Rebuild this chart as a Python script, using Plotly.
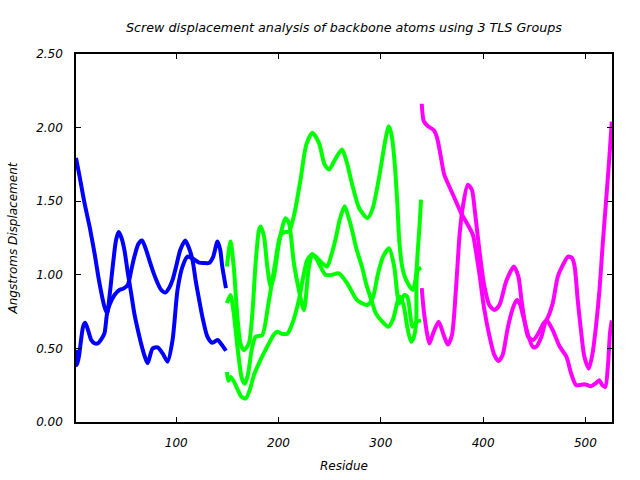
import plotly.graph_objects as go

TITLE = "Screw displacement analysis of backbone atoms using 3 TLS Groups"
X_TITLE = "Residue"
Y_TITLE = "Angstroms Displacement"
X_TICKS = [100, 200, 300, 400, 500]
Y_TICKS = [0.0, 0.5, 1.0, 1.5, 2.0, 2.5]

# Group 1 (blue)
b1_x = [2, 5.5, 10.3, 15.2, 20.1, 24.9, 29.8, 32.4, 34.7, 37.9, 41.2, 43.8, 46.5, 49.3, 52.5, 55.8, 59.0, 62.3, 65.6, 69, 72, 76.9, 81.8, 86.7, 91.5, 96.4, 101.3, 106.1, 111, 116, 122.4, 127, 132, 136, 140.3, 143, 145, 148.6]
b1_y = [1.794, 1.669, 1.488, 1.33, 1.147, 0.945, 0.783, 0.738, 0.85, 1.056, 1.238, 1.29, 1.25, 1.17, 1.02, 0.88, 0.738, 0.63, 0.534, 0.45, 0.40, 0.50, 0.507, 0.466, 0.41, 0.557, 0.90, 1.056, 1.124, 1.11, 1.083, 1.08, 1.08, 1.12, 1.226, 1.17, 1.056, 0.91]
b2_x = [2, 3, 5, 7, 9, 11, 14, 16.9, 20, 23.3, 26.5, 29.8, 32.4, 35, 39.6, 44.4, 48, 52.5, 56, 59.1, 63, 66.5, 70, 73.7, 78, 81.8, 85, 89.3, 93, 96.4, 100, 104, 108.8, 112, 115.9, 119, 122.4, 126, 130.5, 135.4, 140.3, 144, 148.6]
b2_y = [0.49, 0.386, 0.45, 0.56, 0.65, 0.674, 0.62, 0.557, 0.535, 0.534, 0.56, 0.602, 0.74, 0.80, 0.863, 0.897, 0.905, 0.93, 1.03, 1.124, 1.21, 1.233, 1.18, 1.10, 1.01, 0.943, 0.90, 0.879, 0.91, 0.965, 1.06, 1.17, 1.233, 1.19, 1.10, 0.96, 0.829, 0.70, 0.579, 0.538, 0.557, 0.53, 0.484]

# Group 2 (green)
g1_x = [149.5, 153, 156.2, 159.5, 162.8, 166.3, 171, 174.4, 177.6, 180.9, 182.5, 185.8, 189, 192.3, 195.5, 200.4, 205.3, 206.9, 210.2, 215, 219.9, 224.8, 229.6, 233, 236, 240, 246, 252, 259, 267, 276.7, 286.4, 292, 297, 302, 308, 313, 318, 323, 326, 331, 335, 339.3]
g1_y = [1.056, 1.226, 1.056, 0.738, 0.534, 0.488, 0.534, 0.738, 1.079, 1.306, 1.328, 1.26, 1.056, 0.92, 0.988, 1.215, 1.362, 1.385, 1.351, 1.079, 0.897, 0.76, 1.05, 1.14, 1.12, 1.07, 1.0, 1.0, 1.01, 0.943, 0.829, 0.795, 0.84, 1.0, 1.12, 1.18, 1.06, 0.806, 0.863, 0.85, 0.647, 0.68, 0.69]
g2_x = [149.5, 153, 156, 160, 164, 167, 170, 174, 177.6, 184, 190, 196, 202, 206, 210.2, 215, 221.5, 227, 233, 239.5, 245, 249.5, 255, 262, 266.5, 272.5, 279, 287, 292, 298.5, 304, 307.8, 310.5, 313.3, 316, 318.2, 321, 324.7, 331.2, 334, 336.2, 338, 339.3]
g2_y = [0.807, 0.863, 0.75, 0.50, 0.30, 0.26, 0.32, 0.50, 0.579, 0.59, 0.80, 1.05, 1.27, 1.29, 1.294, 1.40, 1.646, 1.88, 1.965, 1.896, 1.75, 1.715, 1.78, 1.851, 1.77, 1.60, 1.45, 1.385, 1.45, 1.669, 1.90, 2.01, 1.95, 1.78, 1.50, 1.215, 1.05, 0.965, 0.897, 0.97, 1.17, 1.35, 1.51]
g3_x = [149.5, 151, 153, 156, 160, 164, 168, 172, 176, 180.9, 185, 190.6, 195, 198.7, 203, 208.5, 213, 219.9, 224, 228, 233, 237, 241, 247.5, 251, 255.6, 260, 264.7, 268, 271.8, 276, 281.5, 286, 291.3, 295, 300, 307.5, 312, 318.2, 322, 326, 329.6, 332, 334.5, 336, 339.3]
g3_y = [0.34, 0.28, 0.306, 0.28, 0.22, 0.17, 0.16, 0.22, 0.32, 0.40, 0.46, 0.534, 0.59, 0.613, 0.60, 0.60, 0.66, 0.829, 0.98, 1.10, 1.14, 1.12, 1.09, 1.056, 1.12, 1.238, 1.38, 1.465, 1.40, 1.306, 1.18, 1.056, 0.93, 0.817, 0.74, 0.693, 0.647, 0.70, 0.852, 0.80, 0.64, 0.545, 0.57, 0.67, 1.03, 1.05]

# Group 3 (magenta)
m1_x = [340, 342, 346, 352, 355, 358.3, 362, 365.4, 372, 378.5, 385, 390, 393, 396.5, 401, 406, 411, 415, 419, 424, 429, 433, 436, 438.5, 443.5, 448.5, 452, 457, 462, 468, 475, 481.5, 486, 491, 499, 505.5, 510, 513.5, 516.5, 519.4, 522, 524, 525.8]
m1_y = [2.162, 2.044, 2.01, 1.98, 1.93, 1.817, 1.68, 1.624, 1.522, 1.42, 1.34, 1.272, 1.158, 1.0, 0.772, 0.59, 0.454, 0.415, 0.454, 0.636, 0.772, 0.829, 0.80, 0.738, 0.602, 0.511, 0.511, 0.579, 0.693, 0.625, 0.511, 0.443, 0.33, 0.25, 0.257, 0.243, 0.262, 0.284, 0.25, 0.238, 0.38, 0.60, 0.69]
m2_x = [340, 342.5, 347.5, 351, 356.5, 361.5, 365.5, 369.5, 373.5, 377, 380, 385, 389, 392, 396.5, 401, 406, 411, 416, 422.5, 430, 434.5, 437.5, 441, 444, 449, 454, 459, 462, 468, 473, 478, 483, 487, 489.5, 492.5, 496, 499, 503.3, 507, 510.5, 513.8, 517, 520.3, 523.5, 525.8]
m2_y = [0.909, 0.727, 0.534, 0.60, 0.681, 0.59, 0.527, 0.59, 0.909, 1.272, 1.454, 1.612, 1.578, 1.43, 1.158, 0.931, 0.795, 0.761, 0.795, 0.954, 1.056, 0.988, 0.829, 0.67, 0.579, 0.557, 0.602, 0.67, 0.693, 0.806, 0.988, 1.067, 1.124, 1.113, 1.056, 0.829, 0.602, 0.443, 0.364, 0.466, 0.66, 0.90, 1.215, 1.51, 1.805, 2.04]

BLUE = "#0000ff"
GREEN = "#00ff00"
MAGENTA = "#ff00ff"

series = [
    (b1_x, b1_y, BLUE), (b2_x, b2_y, BLUE),
    (g1_x, g1_y, GREEN), (g2_x, g2_y, GREEN), (g3_x, g3_y, GREEN),
    (m1_x, m1_y, MAGENTA), (m2_x, m2_y, MAGENTA),
]

fig = go.Figure()
for xs, ys, col in series:
    fig.add_trace(go.Scatter(
        x=xs, y=ys, mode="lines",
        line=dict(color=col, width=4, shape="spline", smoothing=0.7),
        showlegend=False, hoverinfo="skip",
    ))

FONT = dict(family="DejaVu Sans", size=12, color="#000000", style="italic")

fig.update_layout(
    width=640, height=480,
    margin=dict(l=76, r=28, t=54, b=58),
    paper_bgcolor="white", plot_bgcolor="white",
    font=FONT,
    title=dict(text=TITLE, x=0.5, xref="paper", xanchor="center",
               y=1 - 28 / 480, yref="container", yanchor="middle",
               font=dict(family="DejaVu Sans", size=12.7, color="#000000", style="italic")),
    showlegend=False,
)

fig.update_xaxes(
    range=[2, 526], tickvals=X_TICKS, ticktext=[str(v) for v in X_TICKS],
    ticks="inside", ticklen=5, tickwidth=1, tickcolor="black",
    showline=True, linecolor="black", linewidth=1.5, mirror="allticks",
    showgrid=False, zeroline=False, tickfont=FONT, ticklabelstandoff=9,
    automargin=False,
    title=dict(text=X_TITLE, font=FONT, standoff=12),
)
fig.update_yaxes(
    range=[0, 2.5], tickvals=Y_TICKS, ticktext=["%.2f" % v for v in Y_TICKS],
    ticks="inside", ticklen=5, tickwidth=1, tickcolor="black",
    showline=True, linecolor="black", linewidth=1.5, mirror="allticks",
    showgrid=False, zeroline=False, tickfont=FONT, ticklabelstandoff=9,
    automargin=False,
    title=dict(text=Y_TITLE, font=FONT, standoff=16),
)

fig.write_html("out.html")
